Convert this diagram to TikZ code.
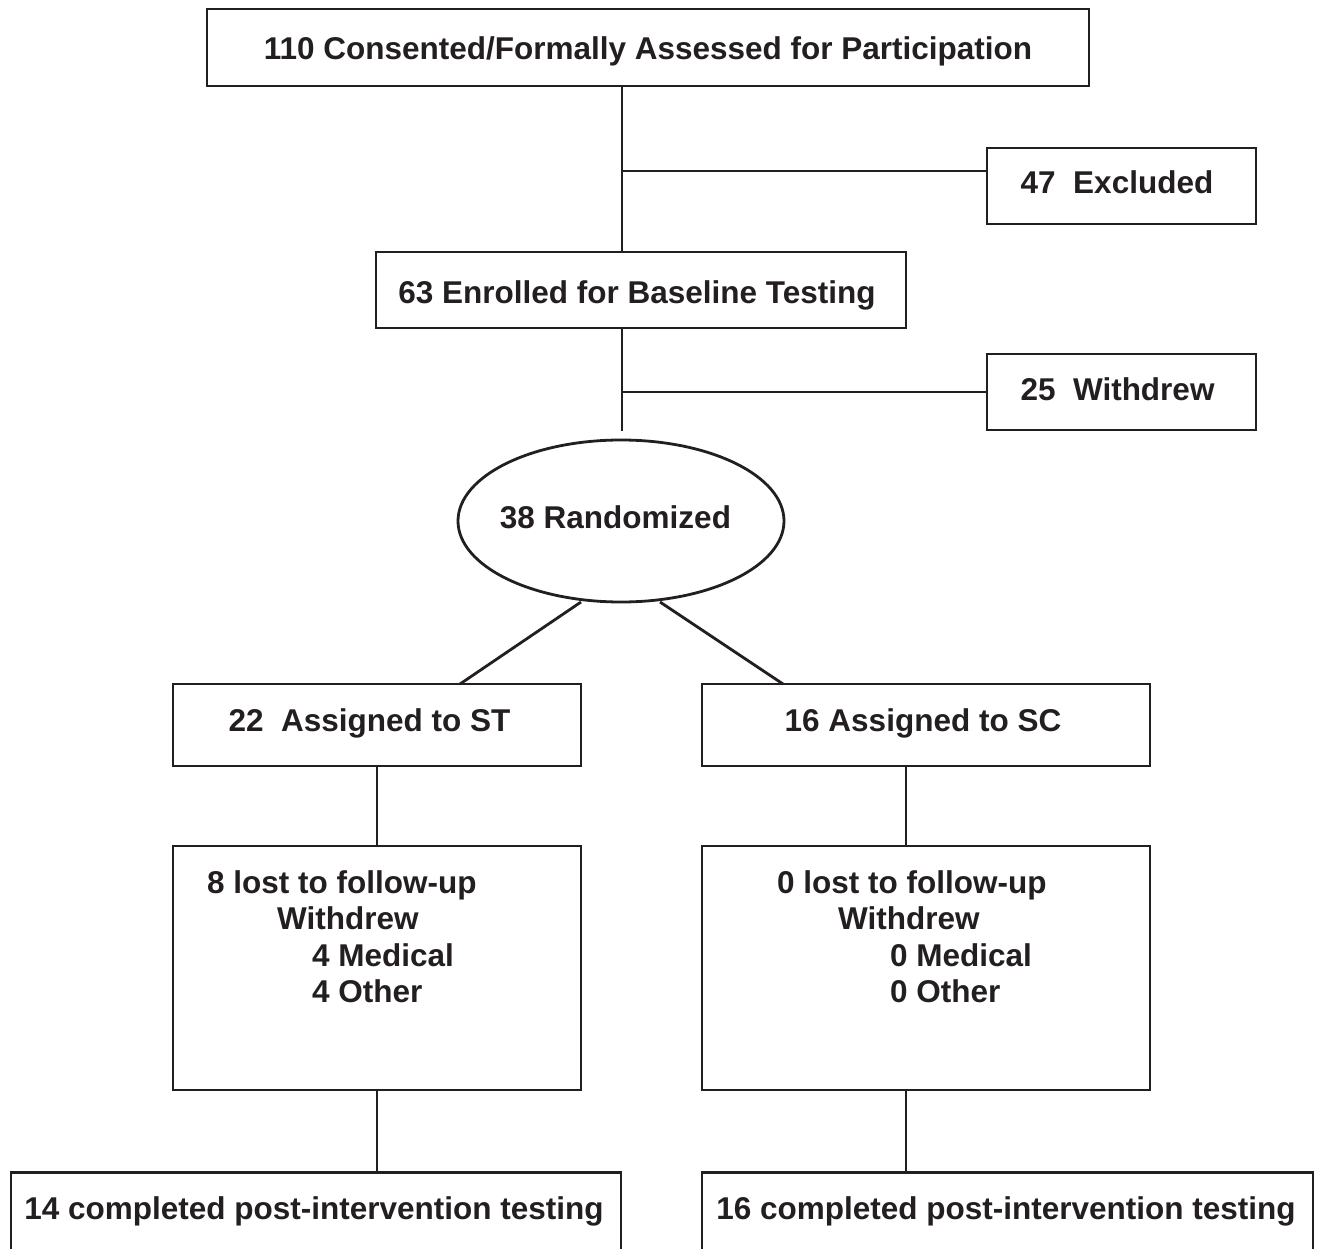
\documentclass[tikz,border=0pt]{standalone}
\usepackage{fontspec}
\setmainfont{Liberation Sans}
\usetikzlibrary{shapes.geometric}
\definecolor{ink}{RGB}{35,31,32}
\begin{document}
\begin{tikzpicture}[x=1pt,y=-1pt,
  box/.style={draw=ink, line width=2.8pt, inner sep=0pt},
  conn/.style={line width=2.8pt, draw=ink},
  lbl/.style={font=\fontsize{31.5}{36}\selectfont\bfseries, inner sep=0pt, text=ink, anchor=base}]
\useasboundingbox (0,0) rectangle (1320,1249);
% boxes
\node[box, minimum width=882pt, minimum height=77pt] (top) at (648,47.5) {};
\node[lbl] (ttop) at (648,60) {110 Consented/Formally Assessed for Participation};
\node[box, minimum width=269pt, minimum height=76pt] (excl) at (1121.5,186) {};
\node[lbl] (texcl) at (1117,194) {47\ \ Excluded};
\node[box, minimum width=530pt, minimum height=76pt] (enr) at (641,290) {};
\node[lbl] (tenr) at (637,304) {63 Enrolled for Baseline Testing};
\node[box, minimum width=269pt, minimum height=76pt] (wd) at (1121.5,392) {};
\node[lbl] (twd) at (1117.5,400) {25\ \ Withdrew};
\node[box, ellipse, minimum width=326pt, minimum height=162pt] (rand) at (621,521) {};
\node[lbl] (trand) at (615.5,528) {38 Randomized};
\node[box, minimum width=408pt, minimum height=82pt] (st) at (377,725) {};
\node[lbl] (tst) at (369.5,731) {22\ \ Assigned to ST};
\node[box, minimum width=448pt, minimum height=82pt] (sc) at (926,725) {};
\node[lbl] (tsc) at (923,731) {16 Assigned to SC};
\node[box, minimum width=408pt, minimum height=244pt] (stl) at (377,968) {};
\node[box, minimum width=448pt, minimum height=244pt] (scl) at (926,968) {};
\node[lbl, anchor=base west] (a1) at (207,893) {8 lost to follow-up};
\node[lbl, anchor=base west] (a2) at (277,929) {Withdrew};
\node[lbl, anchor=base west] (a3) at (312,966) {4 Medical};
\node[lbl, anchor=base west] (a4) at (312,1002) {4 Other};
\node[lbl, anchor=base west] (b1) at (777,893) {0 lost to follow-up};
\node[lbl, anchor=base west] (b2) at (838,929) {Withdrew};
\node[lbl, anchor=base west] (b3) at (890,966) {0 Medical};
\node[lbl, anchor=base west] (b4) at (890,1002) {0 Other};
\node[box, anchor=north, minimum width=610pt, minimum height=160pt] (stc) at (316,1171) {};
\node[lbl] (tstc) at (314,1219) {14 completed post-intervention testing};
\node[box, anchor=north, minimum width=611pt, minimum height=160pt] (scc) at (1007.5,1171) {};
\node[lbl] (tscc) at (1006,1219) {16 completed post-intervention testing};
% connectors
\coordinate (j1) at (622,171);
\coordinate (j2) at (622,392);
\coordinate (e2) at (622,431);
\draw[conn] (top.south -| j1) -- (enr.north -| j1);
\draw[conn] (j1) -- (excl.west |- j1);
\draw[conn] (enr.south -| j2) -- (e2);
\draw[conn] (j2) -- (wd.west |- j2);
\coordinate (r1) at (581,602);
\coordinate (r2) at (660,602);
\coordinate (s1) at (460,684);
\coordinate (s2) at (783,684);
\draw[conn] (r1) -- (s1);
\draw[conn] (r2) -- (s2);
\draw[conn] (st.south -| 377,0) -- (stl.north -| 377,0);
\draw[conn] (sc.south -| 906,0) -- (scl.north -| 906,0);
\draw[conn] (stl.south -| 377,0) -- (stc.north -| 377,0);
\draw[conn] (scl.south -| 906,0) -- (scc.north -| 906,0);
\end{tikzpicture}
\end{document}
